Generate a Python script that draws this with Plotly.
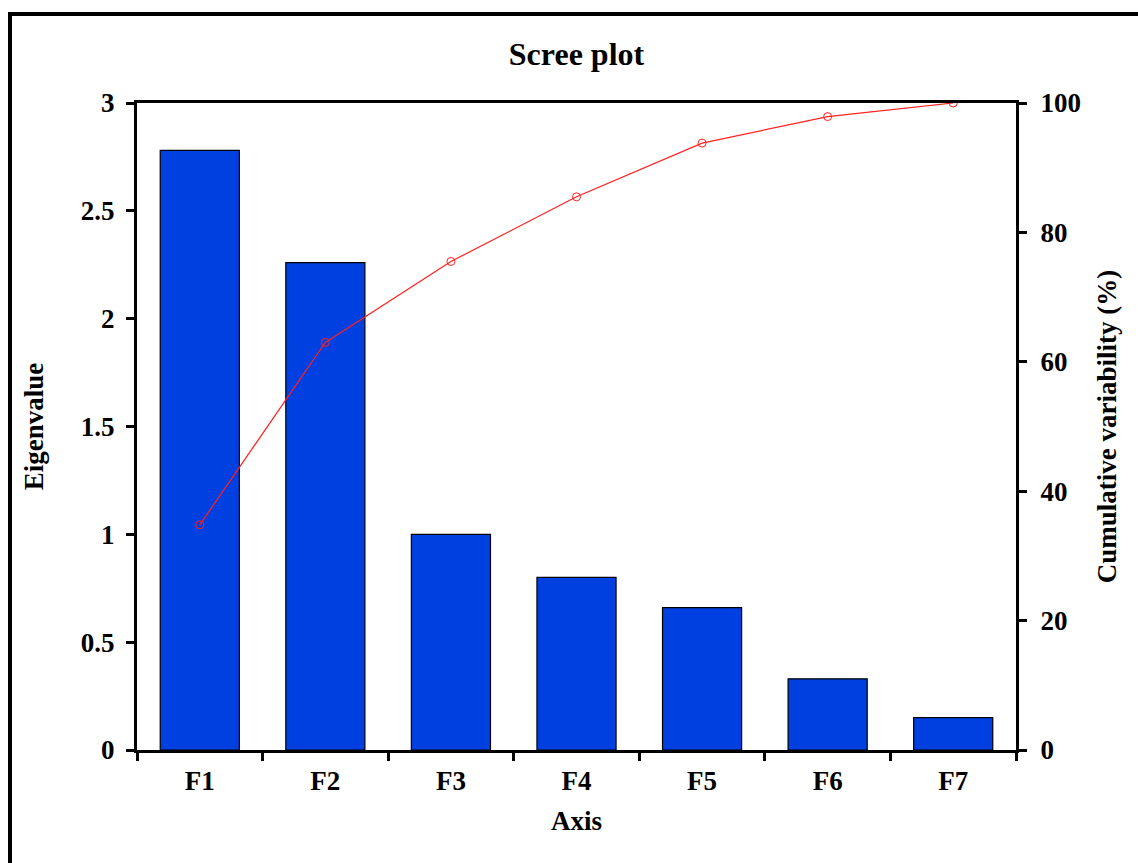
import plotly.graph_objects as go

# Principal component axes and their eigenvalues
axes = ["F1", "F2", "F3", "F4", "F5", "F6", "F7"]
eigenvalues = [2.78, 2.26, 1.00, 0.80, 0.66, 0.33, 0.15]
cumulative_pct = [34.8, 63.0, 75.5, 85.5, 93.8, 97.9, 100.0]

left_ticks = [0, 0.5, 1, 1.5, 2, 2.5, 3]
left_tick_text = ["0", "0.5", "1", "1.5", "2", "2.5", "3"]
right_ticks = [0, 20, 40, 60, 80, 100]

FONT = "Liberation Serif"
W, H = 1138, 863
ML, MR, MT, MB = 137, 122, 103, 113
PW, PH = W - ML - MR, H - MT - MB

fig = go.Figure()

fig.add_trace(go.Bar(
    x=axes, y=eigenvalues, name="Eigenvalue",
    marker=dict(color="#0040E0", line=dict(color="black", width=1.2)),
    width=0.63, yaxis="y",
))

fig.add_trace(go.Scatter(
    x=axes, y=cumulative_pct, name="Cumulative variability (%)",
    mode="lines+markers",
    line=dict(color="#FF2020", width=1.2),
    marker=dict(symbol="circle-open", size=8, color="#FF2020", line=dict(width=1)),
    yaxis="y2",
))

tickfont = dict(family=FONT, size=27, color="black")
titlefont = dict(family=FONT, size=27, color="black")

fig.update_layout(
    width=W, height=H,
    margin=dict(l=ML, r=MR, t=MT, b=MB),
    paper_bgcolor="white", plot_bgcolor="white",
    showlegend=False,
    bargap=0.37,
    title=dict(text="<b>Scree plot</b>", x=(ML + PW / 2) / W, xanchor="center",
               y=1 - 54 / H, yanchor="middle",
               font=dict(family=FONT, size=32, color="black")),
    xaxis=dict(
        type="category", showline=True, linecolor="black", linewidth=3,
        mirror=True, ticks="outside", tickson="boundaries", ticklen=8,
        tickwidth=3, tickcolor="black", showgrid=False,
        tickfont=tickfont, tickprefix="<b>", ticksuffix="</b>",
        ticklabelstandoff=5,
        title=dict(text="<b>Axis</b>", font=titlefont, standoff=16),
    ),
    yaxis=dict(
        range=[0, 3], tickvals=left_ticks,
        ticktext=["<b>%s</b>" % t for t in left_tick_text],
        showline=True, linecolor="black", linewidth=3,
        ticks="outside", ticklen=8, tickwidth=3, tickcolor="black",
        showgrid=False, zeroline=False, tickfont=tickfont,
        ticklabelstandoff=6,
        title=dict(text="<b>Eigenvalue</b>", font=titlefont, standoff=30),
    ),
    yaxis2=dict(
        range=[0, 100], tickvals=right_ticks,
        ticktext=["<b>%d</b>" % t for t in right_ticks],
        overlaying="y", side="right",
        showline=True, linecolor="black", linewidth=3,
        ticks="outside", ticklen=8, tickwidth=3, tickcolor="black",
        showgrid=False, zeroline=False, tickfont=tickfont,
        ticklabelstandoff=8,
        title=dict(text="<b>Cumulative variability (%)</b>", font=titlefont, standoff=18),
    ),
)

# Outer frame around the whole chart
fig.add_shape(
    type="rect", xref="paper", yref="paper",
    x0=(10 - ML) / PW, x1=(W + 20 - ML) / PW,
    y0=-(H + 20 - MT - PH) / PH, y1=1 + (MT - 14) / PH,
    line=dict(color="black", width=4), fillcolor="rgba(0,0,0,0)", layer="below",
)

fig.write_html("out.html")
